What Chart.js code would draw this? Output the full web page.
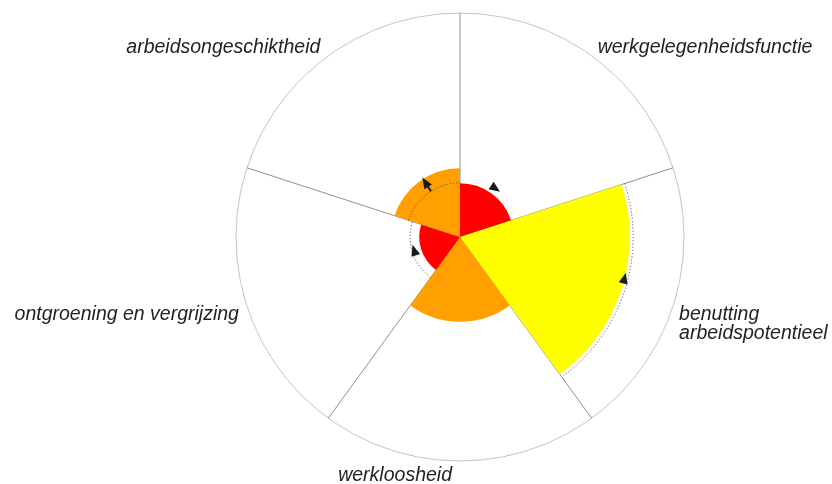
<!DOCTYPE html>
<html><head><meta charset="utf-8">
<script src="https://cdn.jsdelivr.net/npm/chart.js@4/dist/chart.umd.min.js"></script>
<style>html,body{margin:0;padding:0;background:#fff}</style>
</head><body>
<canvas id="c" width="832" height="484"></canvas>
<script>
// ---- data ----
const categories = ['werkgelegenheidsfunctie', ['benutting', 'arbeidspotentieel'], 'werkloosheid', 'ontgroening en vergrijzing', 'arbeidsongeschiktheid'];
const currentValues = [24, 75.8, 37.8, 18.2, 30.7];
const previousValues = [null, 77.3, null, 22.3, 24.2];
const arrowValues = [26.8, 75.7, null, 21.3, 24.2];
const arrowKinds = ['cw', 'ccw', null, 'cw', 'out'];
const sectorColors = ['#ff0000', '#ffff00', '#ffa000', '#ff0000', '#ffa000'];

// ---- styling for overlays ----
const arrowFrac = [0.49, 0.45, null, 0.51, 0.55];

const overlay = {
  id: 'overlay',
  afterDatasetsDraw(chart) {
    const s = chart.scales.r, ctx = chart.ctx;
    const cx = s.xCenter, cy = s.yCenter, n = categories.length, step = 2 * Math.PI / n;
    const start = i => -Math.PI / 2 + i * step;
    ctx.save();
    // dotted arcs (previous values)
    ctx.setLineDash([1.2, 2]);
    ctx.strokeStyle = '#555';
    ctx.lineWidth = 1;
    previousValues.forEach((v, i) => {
      if (v == null) return;
      const r = s.getDistanceFromCenterForValue(v);
      ctx.beginPath();
      ctx.arc(cx, cy, r, start(i), start(i) + step);
      ctx.stroke();
    });
    ctx.setLineDash([]);
    // arrows
    ctx.fillStyle = '#1a1a1a';
    ctx.strokeStyle = '#1a1a1a';
    const tri = (px, py, dx, dy, len, wid) => {
      const qx = -dy, qy = dx;
      ctx.beginPath();
      ctx.moveTo(px + dx * len * 0.6, py + dy * len * 0.6);
      ctx.lineTo(px - dx * len * 0.4 + qx * wid / 2, py - dy * len * 0.4 + qy * wid / 2);
      ctx.lineTo(px - dx * len * 0.4 - qx * wid / 2, py - dy * len * 0.4 - qy * wid / 2);
      ctx.closePath();
      ctx.fill();
    };
    arrowKinds.forEach((k, i) => {
      if (!k) return;
      const a = start(i) + step * arrowFrac[i];
      const r = s.getDistanceFromCenterForValue(arrowValues[i]);
      const px = cx + Math.cos(a) * r, py = cy + Math.sin(a) * r;
      if (k === 'cw' || k === 'ccw') {
        const sg = k === 'cw' ? 1 : -1;
        tri(px, py, -Math.sin(a) * sg, Math.cos(a) * sg, 11, 9);
      } else {
        const r2 = s.getDistanceFromCenterForValue(currentValues[i]);
        const dx = Math.cos(a), dy = Math.sin(a);
        ctx.lineWidth = 2;
        ctx.beginPath();
        ctx.moveTo(px, py);
        ctx.lineTo(cx + dx * (r2 - 6), cy + dy * (r2 - 6));
        ctx.stroke();
        const tx = cx + dx * (r2 - 5), ty = cy + dy * (r2 - 5);
        tri(tx, ty, dx, dy, 11, 9);
      }
    });
    // labels
    ctx.fillStyle = '#222';
    ctx.font = 'italic 19.5px "Liberation Sans", Arial, sans-serif';
    ctx.textBaseline = 'alphabetic';
    const R = s.drawingArea;
    categories.forEach((lab, i) => {
      const a = start(i) + step / 2;
      const c = Math.cos(a), sn = Math.sin(a);
      const px = cx + c * R, py = cy + sn * R;
      const right = c > 0.01;
      ctx.textAlign = right ? 'left' : 'right';
      const x = px + (right ? 6 : -8);
      let y;
      if (sn < -0.5) y = py - 3;
      else if (sn > 0.5) y = py + 20;
      else y = py + 14;
      const lines = Array.isArray(lab) ? lab : [lab];
      lines.forEach((t, j) => ctx.fillText(t, x, y + j * 19));
    });
    ctx.restore();
  }
};

new Chart(document.getElementById('c'), {
  type: 'polarArea',
  data: {
    labels: categories,
    datasets: [{
      data: currentValues,
      backgroundColor: sectorColors,
      borderWidth: 0
    }]
  },
  options: {
    responsive: false,
    animation: false,
    devicePixelRatio: 1,
    layout: { padding: { left: 88, right: 0, top: 13, bottom: 23 } },
    plugins: { legend: { display: false }, tooltip: { enabled: false } },
    scales: {
      r: {
        min: 0, max: 100,
        ticks: { display: false, stepSize: 100 },
        grid: { circular: true, color: '#c4c4c4', lineWidth: 1 },
        angleLines: { display: true, color: '#8e8e8e', lineWidth: 1 },
        pointLabels: { display: false }
      }
    }
  },
  plugins: [overlay]
});
</script>
</body></html>
